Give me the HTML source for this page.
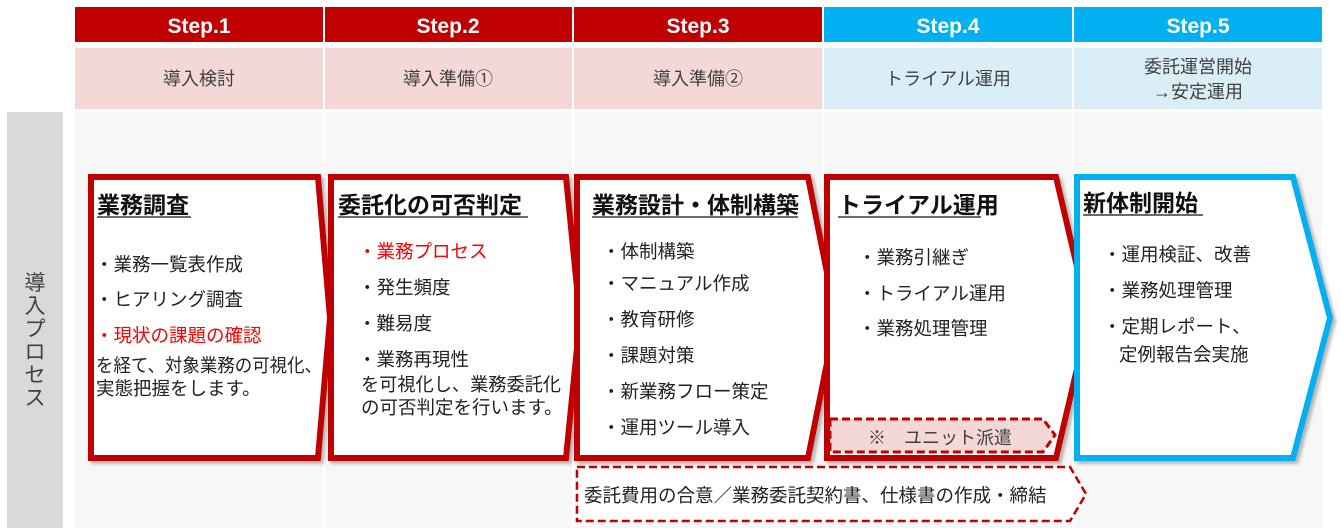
<!DOCTYPE html>
<html><head><meta charset="utf-8"><style>
html,body{margin:0;padding:0;background:#fff}
svg{display:block}
text{font-family:"Liberation Sans","Noto Sans CJK JP",sans-serif}
</style></head><body>
<svg width="1341" height="528" viewBox="0 0 1341 528" xmlns="http://www.w3.org/2000/svg">
<defs><filter id="sh" x="-5%" y="-5%" width="115%" height="115%"><feDropShadow dx="3" dy="3" stdDeviation="1.5" flood-color="#999" flood-opacity="0.7"/></filter></defs>
<g font-size="21" font-weight="bold" fill="#fff" text-anchor="middle">
<rect x="75" y="7" width="248" height="35" fill="#c00000"/>
<rect x="325" y="7" width="247" height="35" fill="#c00000"/>
<rect x="574" y="7" width="248" height="35" fill="#c00000"/>
<rect x="824" y="7" width="248" height="35" fill="#00b0f0"/>
<rect x="1074" y="7" width="248" height="35" fill="#00b0f0"/>
<text x="199" y="33">Step.1</text><text x="448" y="33">Step.2</text><text x="698" y="33">Step.3</text><text x="948" y="33">Step.4</text><text x="1198" y="33">Step.5</text>
</g>
<g font-size="18" fill="#404040" text-anchor="middle">
<rect x="75" y="48" width="248" height="61" fill="#f4d7d7"/>
<rect x="325" y="48" width="247" height="61" fill="#f4d7d7"/>
<rect x="574" y="48" width="248" height="61" fill="#f4d7d7"/>
<rect x="824" y="48" width="248" height="61" fill="#daeef8"/>
<rect x="1074" y="48" width="248" height="61" fill="#daeef8"/>
<text x="199" y="85">導入検討</text><text x="448" y="85">導入準備①</text><text x="698" y="85">導入準備②</text><text x="948" y="85">トライアル運用</text>
<text x="1198" y="73">委託運営開始</text><text x="1198" y="98">→安定運用</text>
</g>
<rect x="75" y="112" width="1247" height="416" fill="#f7f7f7"/>
<g stroke="#fff" stroke-width="2"><line x1="324" y1="112" x2="324" y2="528"/><line x1="573" y1="112" x2="573" y2="528"/><line x1="823" y1="112" x2="823" y2="528"/><line x1="1073" y1="112" x2="1073" y2="528"/></g>
<rect x="7" y="112" width="56" height="416" fill="#d9d9d9"/>
<g font-size="21" fill="#404040" text-anchor="middle">
<text x="35" y="290">導</text><text x="35" y="313">入</text><text x="35" y="336">プ</text><text x="35" y="359">ロ</text><text x="35" y="382">セ</text><text x="35" y="405">ス</text>
</g>
<g fill="#fff" stroke-width="6" stroke-linejoin="miter" filter="url(#sh)">
<path d="M91 177 H318 L330 318 L318 458 H91 Z" stroke="#c00000"/>
<path d="M331 177 H566 L580 318 L566 458 H331 Z" stroke="#c00000"/>
<path d="M577 177 H808 L836 318 L808 458 H577 Z" stroke="#c00000"/>
<path d="M827 177 H1056 L1089 318 L1056 458 H827 Z" stroke="#c00000"/>
<path d="M1077 177 H1293 L1330 318 L1293 458 H1077 Z" stroke="#00b0f0"/>
</g>
<path d="M830 419 H1043 L1055 435 L1043 452 H830 Z" fill="#f4d7d7" stroke="#c00000" stroke-width="3" stroke-dasharray="8,4"/>
<text x="940" y="444" font-size="18" fill="#404040" text-anchor="middle">※　ユニット派遣</text>
<path d="M577 467 H1070 L1086 494 L1070 521 H577 Z" fill="#fff" stroke="#c00000" stroke-width="2.5" stroke-dasharray="8,4"/>
<text x="584" y="502" font-size="18.5" fill="#222">委託費用の合意／業務委託契約書、仕様書の作成・締結</text>
<g font-size="23" font-weight="bold" fill="#111">
<text x="97" y="213">業務調査</text>
<text x="338" y="213">委託化の可否判定</text>
<text x="592" y="213">業務設計・体制構築</text>
<text x="838" y="213">トライアル運用</text>
<text x="1083" y="211">新体制開始</text>
</g>
<g stroke="#111" stroke-width="1.3"><line x1="97" y1="217" x2="191" y2="217"/><line x1="338" y1="217" x2="528" y2="217"/><line x1="592" y1="217" x2="798" y2="217"/><line x1="838" y1="217" x2="981" y2="217"/><line x1="1083" y1="215" x2="1203" y2="215"/></g>
<g font-size="18.5" fill="#222">
<text x="95" y="271">・業務一覧表作成</text>
<text x="95" y="306">・ヒアリング調査</text>
<text x="95" y="342" fill="#ff0000">・現状の課題の確認</text>
<text x="96" y="372" textLength="226" lengthAdjust="spacingAndGlyphs">を経て、対象業務の可視化、</text>
<text x="96" y="395">実態把握をします。</text>
<text x="358" y="258" fill="#ff0000">・業務プロセス</text>
<text x="358" y="294">・発生頻度</text>
<text x="358" y="330">・難易度</text>
<text x="358" y="366">・業務再現性</text>
<text x="361" y="391" textLength="200" lengthAdjust="spacingAndGlyphs">を可視化し、業務委託化</text>
<text x="361" y="414">の可否判定を行います。</text>
<text x="602" y="258">・体制構築</text>
<text x="602" y="290">・マニュアル作成</text>
<text x="602" y="326">・教育研修</text>
<text x="602" y="362">・課題対策</text>
<text x="602" y="398">・新業務フロー策定</text>
<text x="602" y="434">・運用ツール導入</text>
<text x="858" y="264">・業務引継ぎ</text>
<text x="858" y="300">・トライアル運用</text>
<text x="858" y="335">・業務処理管理</text>
<text x="1103" y="261">・運用検証、改善</text>
<text x="1103" y="297">・業務処理管理</text>
<text x="1103" y="333">・定期レポート、</text>
<text x="1119" y="361">定例報告会実施</text>
</g>
</svg>
</body></html>
